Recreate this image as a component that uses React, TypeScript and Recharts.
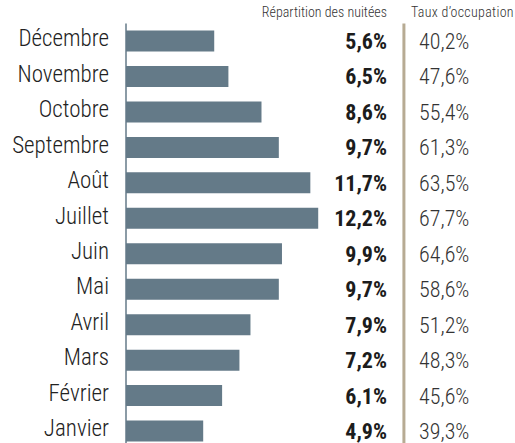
import { BarChart, Bar, XAxis, YAxis, LabelList, ReferenceLine } from "recharts";

const months = ["Décembre", "Novembre", "Octobre", "Septembre", "Août", "Juillet", "Juin", "Mai", "Avril", "Mars", "Février", "Janvier"];
const nuitees = [5.6, 6.5, 8.6, 9.7, 11.7, 12.2, 9.9, 9.7, 7.9, 7.2, 6.1, 4.9];
const occupation = [40.2, 47.6, 55.4, 61.3, 63.5, 67.7, 64.6, 58.6, 51.2, 48.3, 45.6, 39.3];

const data = months.map((month, i) => ({ month, nuitees: nuitees[i], occupation: occupation[i] }));

const FONT = "'Roboto Condensed', Roboto, sans-serif";
const fmt = (v: number) => v.toFixed(1).replace(".", ",") + "%";

const MonthTick = (props: any) => {
  const { x, y, payload } = props;
  return (
    <text x={x - 9} y={y} dy={5} textAnchor="end" fontFamily={FONT} fontSize={23} fontWeight={300} fill="#222" style={{ fontStretch: "condensed" }}>
      {payload.value}
    </text>
  );
};

const NuiteeLabel = (props: any) => {
  const { y, height, value } = props;
  return (
    <text x={387} y={y + height / 2} dy={8} textAnchor="end" fontFamily={FONT} fontSize={22} fontWeight={700} fill="#1c1c1c" style={{ fontStretch: "condensed" }}>
      {fmt(value)}
    </text>
  );
};

const OccLabel = (props: any) => {
  const { y, height, value } = props;
  return (
    <text x={419} y={y + height / 2} dy={8} textAnchor="start" fontFamily={FONT} fontSize={22} fontWeight={300} fill="#333" style={{ fontStretch: "condensed" }}>
      {fmt(value)}
    </text>
  );
};

export default function App() {
  return (
    <div style={{ position: "absolute", left: 0, top: 0, width: 515, height: 443, overflow: "hidden", background: "#fff" }}>
      <div style={{ position: "absolute", right: 128, top: 4, fontFamily: FONT, fontSize: 14, fontWeight: 300, color: "#333", fontStretch: "condensed", whiteSpace: "nowrap" }}>
        Répartition des nuitées
      </div>
      <div style={{ position: "absolute", left: 411, top: 4, fontFamily: FONT, fontSize: 14, fontWeight: 300, color: "#333", letterSpacing: 0.3, fontStretch: "condensed", whiteSpace: "nowrap" }}>
        Taux d’occupation
      </div>
      <BarChart
        width={515}
        height={450}
        data={data}
        layout="vertical"
        margin={{ top: 23.5, right: 3, bottom: 1, left: 0 }}
      >
        <XAxis type="number" domain={[0, 24.5]} hide />
        <YAxis type="category" dataKey="month" width={126} axisLine={{ stroke: "#647a88", strokeWidth: 1.5 }} tickLine={false} tick={<MonthTick />} />
        <ReferenceLine x={17.64} stroke="#b7ab93" strokeWidth={3} />
        <Bar dataKey="nuitees" fill="#647a88" barSize={21} isAnimationActive={false}>
          <LabelList dataKey="nuitees" content={<NuiteeLabel />} />
          <LabelList dataKey="occupation" content={<OccLabel />} />
        </Bar>
      </BarChart>
    </div>
  );
}
